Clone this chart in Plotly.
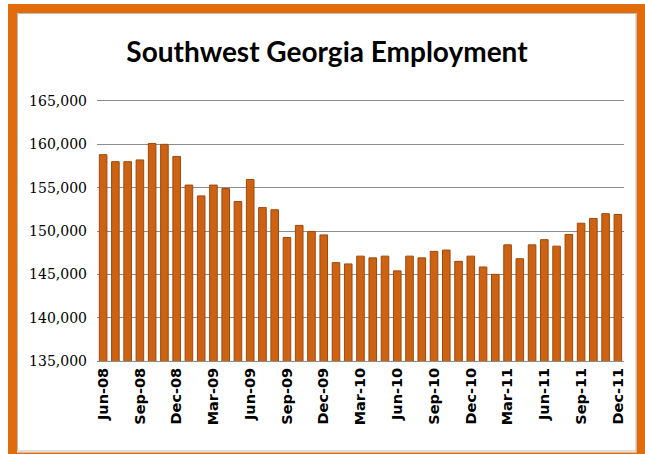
import plotly.graph_objects as go

months = [
    "Jun-08", "Jul-08", "Aug-08", "Sep-08", "Oct-08", "Nov-08", "Dec-08",
    "Jan-09", "Feb-09", "Mar-09", "Apr-09", "May-09", "Jun-09", "Jul-09",
    "Aug-09", "Sep-09", "Oct-09", "Nov-09", "Dec-09", "Jan-10", "Feb-10",
    "Mar-10", "Apr-10", "May-10", "Jun-10", "Jul-10", "Aug-10", "Sep-10",
    "Oct-10", "Nov-10", "Dec-10", "Jan-11", "Feb-11", "Mar-11", "Apr-11",
    "May-11", "Jun-11", "Jul-11", "Aug-11", "Sep-11", "Oct-11", "Nov-11",
    "Dec-11",
]
employment = [
    158800, 158000, 158000, 158200, 160100, 160000, 158600,
    155300, 154050, 155300, 154900, 153400, 155950, 152700,
    152450, 149250, 150650, 149950, 149550, 146350, 146200,
    147100, 146900, 147100, 145400, 147100, 146900, 147650,
    147800, 146500, 147100, 145850, 145000, 148400, 146800,
    148400, 149000, 148250, 149600, 150900, 151450, 152000,
    151900,
]
tick_labels = months[::3]
y_ticks = [135000, 140000, 145000, 150000, 155000, 160000, 165000]

W, H = 645, 454
L, R, T, B = 97, 21, 101, 93
pw, ph = W - L - R, H - T - B

def px(x):
    return (x - L) / pw

def py(y):
    return 1 - (y - T) / ph

fig = go.Figure(go.Bar(
    x=months, y=employment,
    marker=dict(color="#CC6212", line=dict(color="#9E4A0E", width=1)),
))

fig.update_layout(
    width=W, height=H,
    margin=dict(l=L, r=R, t=T, b=B),
    paper_bgcolor="white", plot_bgcolor="white",
    bargap=0.38,
    showlegend=False,
    title=dict(text="<b>Southwest Georgia Employment</b>", x=327 / W, xanchor="center",
               xref="container", yref="container", y=1 - 52 / H, yanchor="middle",
               font=dict(family="Lato", size=28, color="black")),
    xaxis=dict(tickmode="array", tickvals=tick_labels, ticktext=tick_labels,
               tickangle=-90, showgrid=False, ticks="",
               tickfont=dict(family="DejaVu Sans", size=14.5, color="black", weight="bold"),
               showline=True, linecolor="#8c8c8c", linewidth=1, mirror=True),
    yaxis=dict(range=[135000, 165000], tickvals=y_ticks, tickformat=",d",
               showgrid=True, gridcolor="#8c8c8c", gridwidth=1,
               zeroline=False, ticks="", ticklen=0, ticklabelstandoff=9,
               tickfont=dict(family="DejaVu Serif", size=14, color="black")),
    shapes=[
        dict(type="rect", xref="paper", yref="paper",
             x0=px(12.5), x1=px(641), y0=py(457), y1=py(8.5),
             line=dict(color="#E36C0A", width=9), fillcolor="rgba(0,0,0,0)", layer="above"),
        dict(type="rect", xref="paper", yref="paper",
             x0=px(17.5), x1=px(636), y0=py(451), y1=py(13.5),
             line=dict(color="#BDBDBD", width=1), fillcolor="rgba(0,0,0,0)", layer="above"),
    ],
)

fig.write_html("out.html")
